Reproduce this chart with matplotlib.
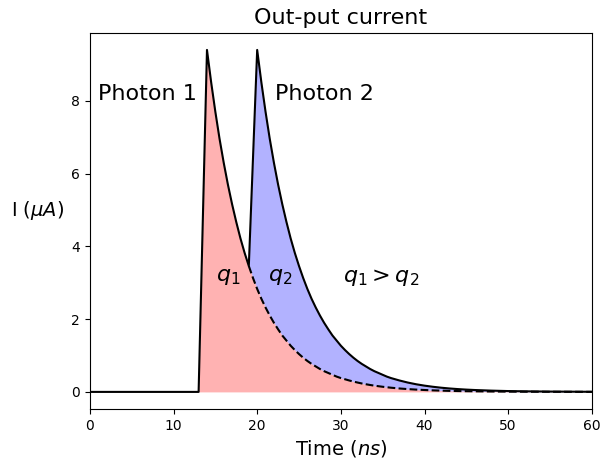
import numpy as np
import matplotlib
matplotlib.use("Agg")
import matplotlib.pyplot as plt

# Time samples (ns)
time_ns = [0, 13,
           14, 14.5, 15, 15.5, 16, 16.5, 17, 17.5, 18, 18.5, 19, 19.5,
           20, 20.5, 21, 21.5, 22, 22.5, 23, 23.5, 24, 24.5, 25, 25.5,
           26, 26.5, 27, 27.5, 28, 28.5, 29, 29.5, 30, 30.5, 31, 31.5,
           32, 32.5, 33, 33.5, 34, 34.5, 35, 35.5, 36,
           37, 38, 39, 40, 41, 42, 43, 44, 45, 46,
           48, 50, 52, 55, 60]

# Current of photon 1 pulse alone (uA)
photon1_current = [0, 0,
                   9.40, 8.51, 7.70, 6.96, 6.30, 5.70, 5.16, 4.67, 4.22, 3.82, 3.46, 3.13,
                   2.83, 2.56, 2.32, 2.10, 1.90, 1.72, 1.55, 1.41, 1.27, 1.15, 1.04, 0.94,
                   0.85, 0.77, 0.70, 0.63, 0.57, 0.52, 0.47, 0.42, 0.38, 0.347, 0.314, 0.284,
                   0.257, 0.232, 0.210, 0.190, 0.172, 0.156, 0.141, 0.128, 0.115,
                   0.094, 0.077, 0.063, 0.052, 0.042, 0.035, 0.028, 0.023, 0.019, 0.016,
                   0.011, 0.007, 0.005, 0.003, 0.001]

# Total output current (uA)
total_current = [0, 0,
                 9.40, 8.51, 7.70, 6.96, 6.30, 5.70, 5.16, 4.67, 4.22, 3.82, 3.46, 6.43,
                 9.40, 8.51, 7.70, 6.96, 6.30, 5.70, 5.16, 4.67, 4.22, 3.82, 3.46, 3.13,
                 2.83, 2.56, 2.32, 2.10, 1.90, 1.72, 1.55, 1.41, 1.27, 1.15, 1.04, 0.94,
                 0.85, 0.77, 0.70, 0.63, 0.57, 0.52, 0.47, 0.42, 0.38,
                 0.314, 0.257, 0.210, 0.172, 0.141, 0.115, 0.094, 0.077, 0.063, 0.052,
                 0.035, 0.023, 0.016, 0.009, 0.003]

photon2_arrival = 19

t = np.array(time_ns, dtype=float)
i1 = np.array(photon1_current)
itot = np.array(total_current)

fig = plt.figure(figsize=(6.03, 4.61), dpi=100)
ax = fig.add_axes([0.149, 0.1128, 0.8325, 0.816])

after1 = t >= 13
ax.fill_between(t[after1], 0, i1[after1], color="red", alpha=0.3, linewidth=0)
after2 = t >= photon2_arrival
ax.fill_between(t[after2], i1[after2], itot[after2], color="blue", alpha=0.3, linewidth=0)

ax.plot(t, itot, color="black", linewidth=1.5)
ax.plot(t[after2], i1[after2], color="black", linestyle="--", linewidth=1.5)

ax.set_xlim(0, 60)
ax.set_title("Out-put current", fontsize=16)
ax.set_xlabel("Time ($ns$)", fontsize=14)
ax.set_ylabel("I ($\\mu A$)", fontsize=14, rotation=0, ha="center", va="center")
ax.yaxis.set_label_coords(-0.104, 0.529)

ax.text(1.0, 8.2, "Photon 1", fontsize=16, ha="left", va="center")
ax.text(22.1, 8.2, "Photon 2", fontsize=16, ha="left", va="center")
ax.text(16.6, 3.15, "$q_1$", fontsize=16, ha="center", va="center")
ax.text(22.7, 3.15, "$q_2$", fontsize=16, ha="center", va="center")
ax.text(34.8, 3.15, "$q_1 > q_2$", fontsize=16, ha="center", va="center")

fig.savefig("out.png", dpi=100)
